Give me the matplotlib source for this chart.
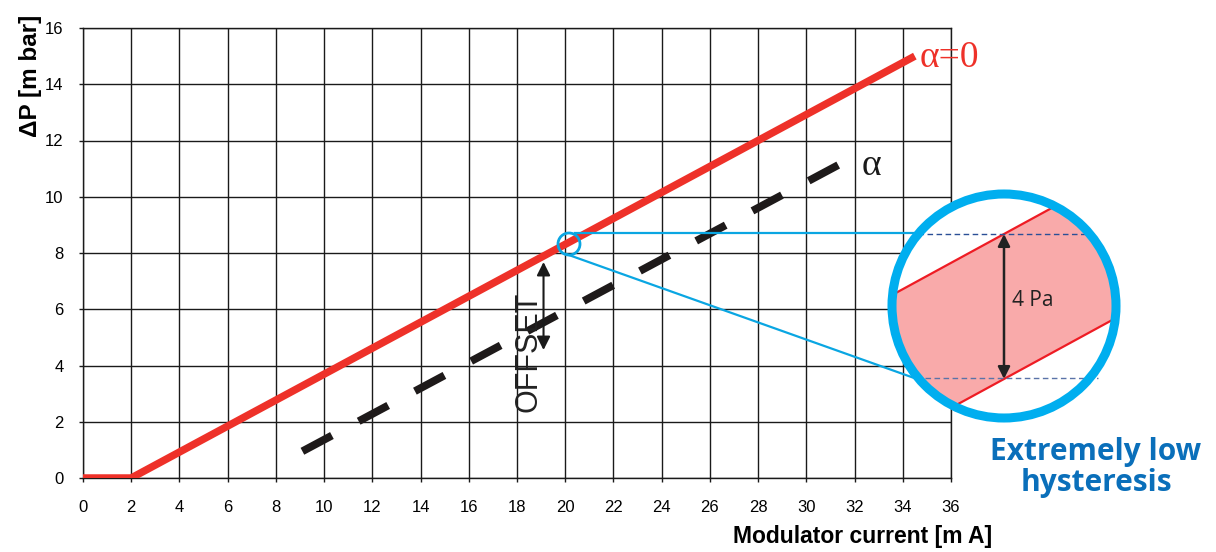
import matplotlib
matplotlib.use("Agg")
import matplotlib.pyplot as plt
from matplotlib.patches import Circle, Polygon
import numpy as np

# data
ticks_x = np.arange(0, 37, 2)
ticks_y = np.arange(0, 17, 2)
red_x = [0, 2, 34.5]        # alpha = 0 characteristic
red_y = [0, 0, 15]
alpha_x = [9.1, 31.7]       # alpha characteristic (dashed)
alpha_y = [0.95, 11.3]
offset_x = 19.1
offset_y = [4.55, 7.68]

W, H = 1216, 552
fig = plt.figure(figsize=(W / 100, H / 100), dpi=100)
sans = ['Liberation Sans Narrow', 'Liberation Sans', 'DejaVu Sans']

ax = fig.add_axes([83 / W, 74 / H, 868 / W, 450 / H])
ax.set_xlim(0, 36)
ax.set_ylim(0, 16)
ax.set_xticks(ticks_x)
ax.set_yticks(ticks_y)
ax.grid(True, color='#1a1a1a', lw=1.0)
ax.set_axisbelow(True)
for s in ax.spines.values():
    s.set_color('#1a1a1a')
    s.set_linewidth(1.0)
ax.tick_params(direction='out', length=3, width=1, color='#1a1a1a')
ax.tick_params(axis='x', pad=13)
ax.tick_params(axis='y', pad=11)
for lab in ax.get_xticklabels() + ax.get_yticklabels():
    lab.set_family(['Liberation Sans', 'DejaVu Sans'])
    lab.set_fontsize(12)

ax.plot(red_x, red_y, color='#ee3129', lw=5.4, solid_capstyle='butt', zorder=3)
ax.plot(alpha_x, alpha_y, color='#1e1a1a', lw=5.6, dashes=(4.3, 3.9),
        dash_capstyle='butt', zorder=3)

ax.annotate('', xy=(offset_x, offset_y[1]), xytext=(offset_x, offset_y[0]),
            arrowprops=dict(arrowstyle='<|-|>', color='#1a1a1a', lw=1.5,
                            mutation_scale=20, shrinkA=0, shrinkB=0), zorder=4)
ax.text(18.46, 4.5, 'OFFSET', rotation=90, ha='center', va='center',
        fontsize=22, family=sans, color='#222222', zorder=4)

ax.text(34.7, 14.95, 'α=0', color='#ee3129', fontsize=27,
        family=['Liberation Serif', 'DejaVu Serif'], ha='left', va='center')
ax.text(32.3, 11.1, 'α', color='#1a1a1a', fontsize=27,
        family=['Liberation Serif', 'DejaVu Serif'], ha='left', va='center')

fig.text(30 / W, 1 - 76 / H, 'ΔP [m bar]', rotation=90, ha='center', va='center',
         fontsize=17.5, fontweight='bold', family=sans)
fig.text(863 / W, 1 - 537 / H, 'Modulator current [m A]', ha='center', va='center',
         fontsize=16.5, fontweight='bold', family=sans)

# magnifier overlay in pixel coordinates
ov = fig.add_axes([0, 0, 1, 1])
ov.set_xlim(0, W)
ov.set_ylim(H, 0)
ov.axis('off')
ov.patch.set_alpha(0)

blue = '#0aa6e2'
ov.plot([575, 915], [233, 233], color=blue, lw=1.6)
ov.plot([566, 917], [254, 379], color=blue, lw=1.6)
ov.add_patch(Circle((569, 244), 11, fill=False, ec=blue, lw=2))

cx, cy, r = 1004, 306, 112
ov.add_patch(Circle((cx, cy), r, fc='white', ec='none', zorder=2))
k = -0.545
xs = np.array([850, 1160])
top = 234 + k * (xs - cx)
bot = 379 + k * (xs - cx)
band = Polygon([[xs[0], top[0]], [xs[1], top[1]], [xs[1], bot[1]], [xs[0], bot[0]]],
               closed=True, fc='#f9aaaa', ec='none', zorder=3)
ov.add_patch(band)
clip = Circle((cx, cy), r, transform=ov.transData)
band.set_clip_path(clip)
l1, = ov.plot(xs, top, color='#ee1c24', lw=1.6, zorder=4)
l2, = ov.plot(xs, bot, color='#ee1c24', lw=1.6, zorder=4)
l1.set_clip_path(clip)
l2.set_clip_path(clip)
ov.plot([918, 1090], [234, 234], color='#2a4f96', lw=1, ls=(0, (4, 2.5)), zorder=4)
ov.plot([925, 1098], [378, 378], color='#5a73a8', lw=1, ls=(0, (4, 2.5)), zorder=4)
ov.annotate('', xy=(cx, 234), xytext=(cx, 379),
            arrowprops=dict(arrowstyle='<|-|>', color='#222222', lw=1.8,
                            mutation_scale=18, shrinkA=0, shrinkB=0), zorder=5)
ov.text(1012, 301, '4 Pa', fontsize=15, family=['Open Sans', 'DejaVu Sans'],
        color='#222222', ha='left', va='center', zorder=5)
ov.add_patch(Circle((cx, cy), r, fill=False, ec='#00aeef', lw=6.5, zorder=6))

ov.text(1096, 452, 'Extremely low', color='#0a6fba', fontsize=21.5,
        fontweight='bold', family=['Open Sans', 'DejaVu Sans'], ha='center', va='center')
ov.text(1096, 483, 'hysteresis', color='#0a6fba', fontsize=21.5,
        fontweight='bold', family=['Open Sans', 'DejaVu Sans'], ha='center', va='center')

fig.savefig('out.png', dpi=100)
